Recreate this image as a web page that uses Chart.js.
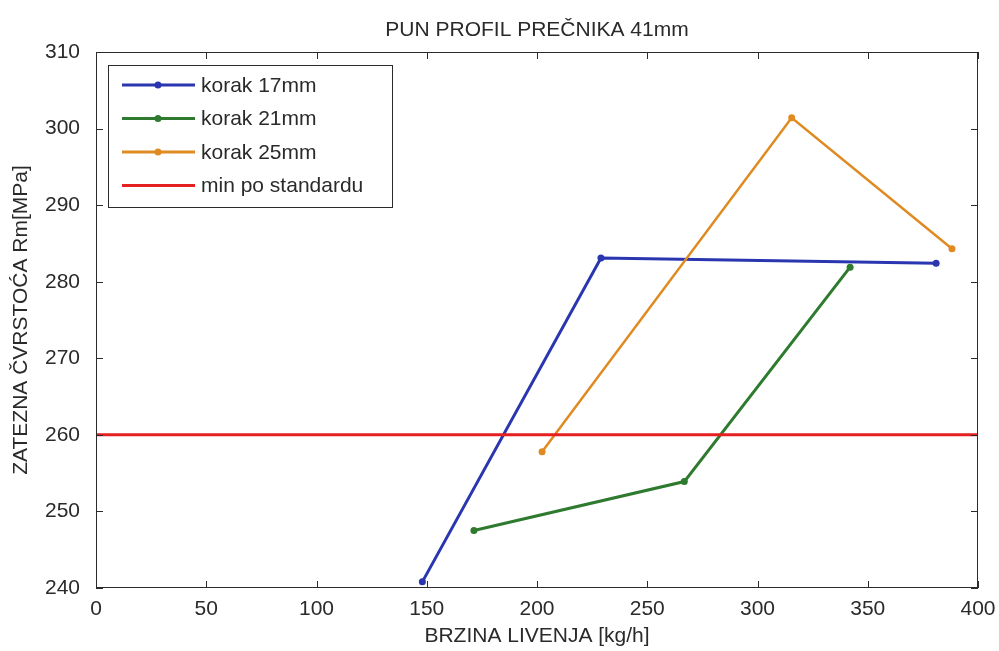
<!DOCTYPE html>
<html>
<head>
<meta charset="utf-8">
<script src="https://cdn.jsdelivr.net/npm/chart.js@4.4.1/dist/chart.umd.min.js"></script>
<style>
  html, body { margin: 0; padding: 0; background: #fff; }
  #wrap { width: 999px; height: 651px; position: relative; }
</style>
</head>
<body>
<div id="wrap"><canvas id="rmChart"></canvas></div>
<script>
// data
const korak17X = [148, 229, 381];
const korak17Y = [240.8, 283.1, 282.4];
const korak21X = [171.4, 266.8, 342];
const korak21Y = [247.5, 253.9, 281.9];
const korak25X = [202.3, 315.5, 388.2];
const korak25Y = [257.8, 301.4, 284.3];
const standardX = [0, 400];
const standardY = [260, 260];

const seriesLabels = ['korak 17mm', 'korak 21mm', 'korak 25mm', 'min po standardu'];
const seriesColors = ['#2a35b0', '#2e7a2e', '#e08a22', '#e62020'];

const FONT = 'Liberation Sans, Arial, sans-serif';
const TEXT = '#2a2a2a';

function toPoints(xs, ys) {
    return xs.map((x, i) => ({ x: x, y: ys[i] }));
}

// MATLAB style frame: box + inward ticks on all four sides
const frameBox = {
    id: 'frameBox',
    afterDraw(chart) {
        const { ctx, chartArea: a, scales } = chart;
        const len = 7;
        ctx.save();
        ctx.strokeStyle = '#2b2b2b';
        ctx.lineWidth = 1;
        ctx.strokeRect(a.left + 0.5, a.top + 0.5, a.right - a.left - 1, a.bottom - a.top - 1);
        ctx.beginPath();
        scales.x.ticks.forEach(t => {
            const px = Math.round(scales.x.getPixelForValue(t.value)) + 0.5;
            ctx.moveTo(px, a.bottom);
            ctx.lineTo(px, a.bottom - len);
            ctx.moveTo(px, a.top);
            ctx.lineTo(px, a.top + len);
        });
        scales.y.ticks.forEach(t => {
            const py = Math.round(scales.y.getPixelForValue(t.value)) + 0.5;
            ctx.moveTo(a.left, py);
            ctx.lineTo(a.left + len, py);
            ctx.moveTo(a.right, py);
            ctx.lineTo(a.right - len, py);
        });
        ctx.stroke();
        ctx.restore();
    }
};

// title centred over the plot area
const plotTitle = {
    id: 'plotTitle',
    afterDraw(chart) {
        const { ctx, chartArea: a } = chart;
        ctx.save();
        ctx.fillStyle = TEXT;
        ctx.font = '21px ' + FONT;
        ctx.textAlign = 'center';
        ctx.textBaseline = 'middle';
        ctx.fillText('PUN PROFIL PREČNIKA 41mm', (a.left + a.right) / 2, 30);
        ctx.restore();
    }
};

// legend box inside the top-left corner of the axes
const boxLegend = {
    id: 'boxLegend',
    afterDatasetsDraw(chart) {
        const { ctx, chartArea: a } = chart;
        const x0 = a.left + 12, y0 = a.top + 13;
        const w = 284, h = 142, rowH = 33.5;
        ctx.save();
        ctx.fillStyle = '#fff';
        ctx.fillRect(x0, y0, w, h);
        ctx.strokeStyle = '#2b2b2b';
        ctx.lineWidth = 1;
        ctx.strokeRect(x0 + 0.5, y0 + 0.5, w, h);
        ctx.font = '21px ' + FONT;
        ctx.textBaseline = 'middle';
        chart.data.datasets.forEach((ds, i) => {
            const cy = y0 + 20 + i * rowH;
            ctx.strokeStyle = ds.borderColor;
            ctx.lineWidth = 3;
            ctx.beginPath();
            ctx.moveTo(x0 + 14, cy);
            ctx.lineTo(x0 + 87, cy);
            ctx.stroke();
            if (ds.pointRadius > 0) {
                ctx.fillStyle = ds.borderColor;
                ctx.beginPath();
                ctx.arc(x0 + 50, cy, 3.5, 0, Math.PI * 2);
                ctx.fill();
            }
            ctx.fillStyle = TEXT;
            ctx.fillText(ds.label, x0 + 93, cy + 1);
        });
        ctx.restore();
    }
};

function lineSet(i, xs, ys, opts) {
    return Object.assign({
        label: seriesLabels[i],
        data: toPoints(xs, ys),
        borderColor: seriesColors[i],
        backgroundColor: seriesColors[i],
        borderWidth: 3,
        pointRadius: 3.5,
        pointHoverRadius: 3.5,
        pointBorderWidth: 0,
        fill: false,
        tension: 0,
        order: 4 - i
    }, opts || {});
}

const ctx = document.getElementById('rmChart');
const rmChart = new Chart(ctx, {
    type: 'line',
    data: {
        datasets: [
            lineSet(0, korak17X, korak17Y),
            lineSet(1, korak21X, korak21Y),
            lineSet(2, korak25X, korak25Y, { borderWidth: 2.5 }),
            lineSet(3, standardX, standardY, { pointRadius: 0, borderWidth: 3 })
        ]
    },
    options: {
        responsive: true,
        maintainAspectRatio: false,
        animation: false,
        layout: { padding: { top: 52, right: 21, left: 0, bottom: 0 } },
        plugins: {
            legend: { display: false },
            title: { display: false },
            tooltip: { enabled: false }
        },
        scales: {
            x: {
                type: 'linear',
                min: 0,
                max: 400,
                ticks: { stepSize: 50, color: TEXT, padding: 1, maxRotation: 0, font: { family: FONT, size: 21 } },
                grid: { display: false },
                border: { display: false },
                title: { display: true, text: 'BRZINA LIVENJA [kg/h]', color: TEXT, padding: { top: 0, bottom: 2 }, font: { family: FONT, size: 21 } },
                afterFit(scale) { scale.height = 63; }
            },
            y: {
                type: 'linear',
                min: 240,
                max: 310,
                ticks: { stepSize: 10, color: TEXT, padding: 8, font: { family: FONT, size: 21 } },
                grid: { display: false },
                border: { display: false },
                title: { display: true, text: 'ZATEZNA ČVRSTOĆA Rm[MPa]', color: TEXT, padding: { top: 9, bottom: 0 }, font: { family: FONT, size: 21 } },
                afterFit(scale) { scale.width = 96; }
            }
        }
    },
    plugins: [boxLegend, frameBox, plotTitle]
});
</script>
</body>
</html>
